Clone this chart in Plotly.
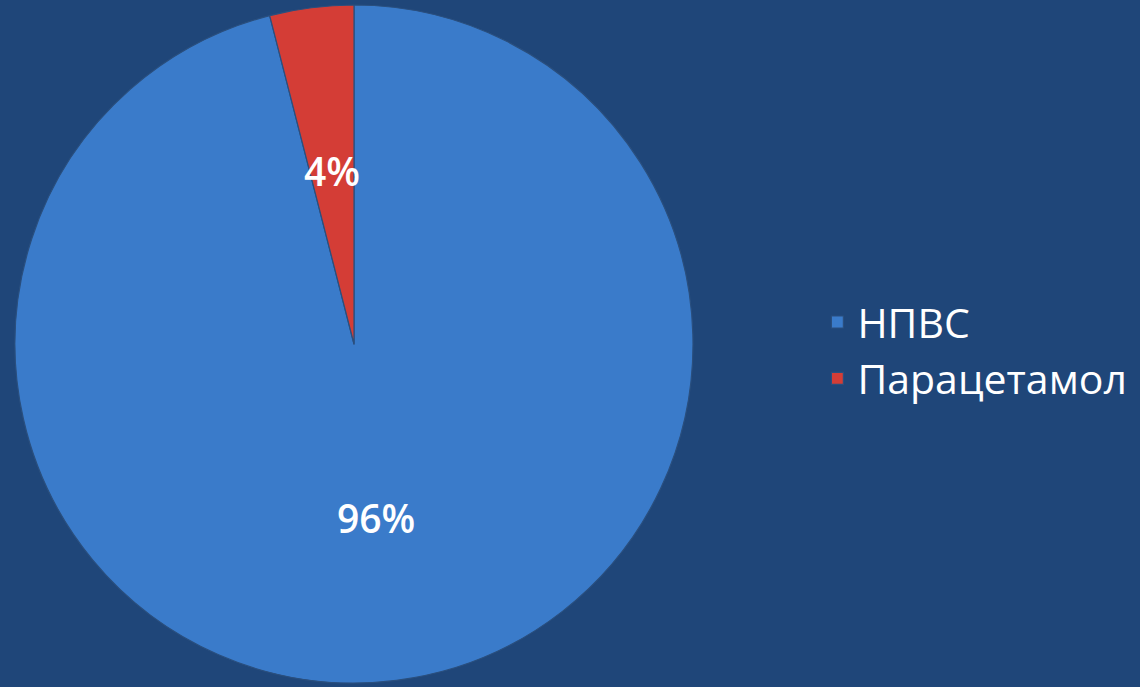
import math
import plotly.graph_objects as go

# Share of prescriptions by drug group
labels = ["НПВС", "Парацетамол"]
shares = [96, 4]
colors = ["#3A7BCA", "#D43D36"]

W, H = 1140, 687
PIE_X = [15 / W, 693 / W]
PIE_Y = [1 / H, 685 / H]
LABEL_FONT = dict(family="Open Sans, Noto Sans, sans-serif", size=39, color="white", weight=600)

fig = go.Figure(
    go.Pie(
        labels=labels,
        values=shares,
        sort=False,
        direction="clockwise",
        rotation=0,
        marker=dict(colors=colors, line=dict(color="#2A4F7E", width=1.2)),
        textinfo="none",
        domain=dict(x=PIE_X, y=PIE_Y),
        hoverinfo="label+percent",
    )
)

# Percentage labels sit about halfway out along each slice's mid-angle
cx = (PIE_X[0] + PIE_X[1]) / 2
cy = (PIE_Y[0] + PIE_Y[1]) / 2
rx = (PIE_X[1] - PIE_X[0]) / 2
ry = (PIE_Y[1] - PIE_Y[0]) / 2
total = sum(shares)
start = 0.0
for value in shares:
    mid = (start + value / 2) / total * 2 * math.pi
    start += value
    fig.add_annotation(
        x=cx + 0.51 * rx * math.sin(mid),
        y=cy + 0.51 * ry * math.cos(mid),
        xref="paper",
        yref="paper",
        xanchor="center",
        yanchor="middle",
        text=f"{value}%",
        showarrow=False,
        font=LABEL_FONT,
    )

fig.update_layout(
    width=W,
    height=H,
    margin=dict(l=0, r=0, t=0, b=0),
    paper_bgcolor="#1F4679",
    plot_bgcolor="#1F4679",
    showlegend=True,
    legend=dict(
        x=0.717,
        y=0.49,
        xanchor="left",
        yanchor="middle",
        font=dict(family="Open Sans, Noto Sans, sans-serif", size=41, color="white"),
        bgcolor="rgba(0,0,0,0)",
        itemwidth=30,
    ),
)

fig.write_html("out.html")
